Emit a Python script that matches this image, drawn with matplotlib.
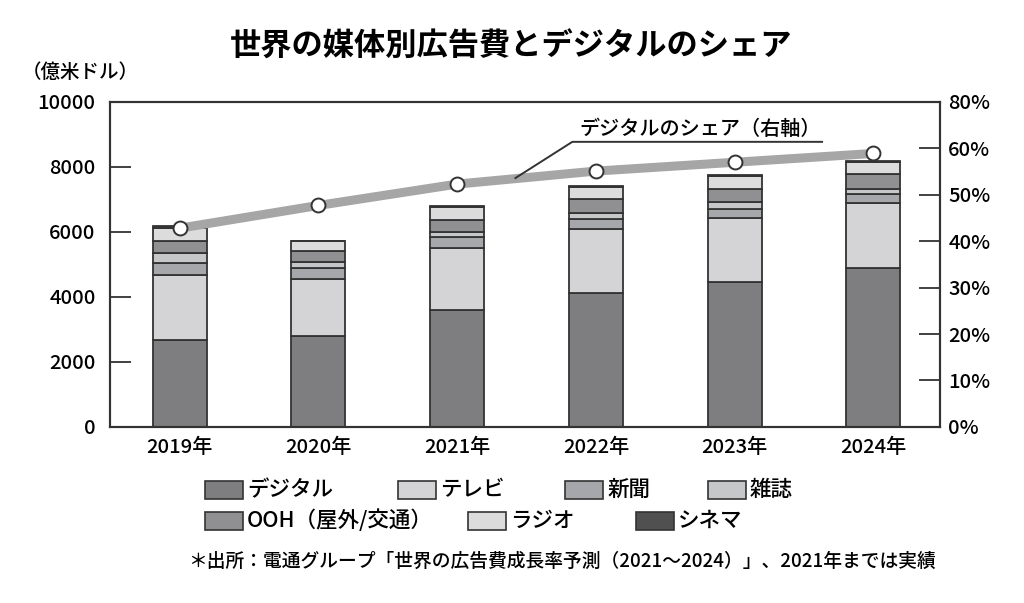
import matplotlib
matplotlib.use("Agg")
import matplotlib.pyplot as plt
from matplotlib.patches import Rectangle
import numpy as np

plt.rcParams['font.family'] = ['Noto Sans CJK JP', 'DejaVu Sans']
plt.rcParams['font.weight'] = 'medium'

years = ['2019年', '2020年', '2021年', '2022年', '2023年', '2024年']
digital = [2680, 2800, 3600, 4120, 4460, 4890]
tv = [2000, 1750, 1910, 1970, 1970, 2000]
newspaper = [370, 340, 340, 310, 280, 280]
magazine = [310, 185, 150, 185, 215, 155]
ooh = [370, 340, 370, 430, 400, 460]
radio = [400, 310, 400, 370, 400, 370]
cinema = [40, 10, 20, 30, 35, 40]
digital_share = [42.8, 47.7, 52.3, 55.1, 57.0, 58.9]

series_names = ['デジタル', 'テレビ', '新聞', '雑誌', 'OOH（屋外/交通）', 'ラジオ', 'シネマ']
series_values = [digital, tv, newspaper, magazine, ooh, radio, cinema]
series_colors = ['#7e7e80', '#d4d4d6', '#a6a7aa', '#c6c7c9', '#909092', '#dcdcdd', '#505050']

left_ticks = [0, 2000, 4000, 6000, 8000, 10000]
right_ticks = [0, 10, 20, 30, 40, 50, 60, 70]
right_tick_labels = ['0%', '10%', '20%', '30%', '40%', '50%', '60%', '80%']

edge = '#333333'
fig = plt.figure(figsize=(10.24, 6.03), dpi=100)
ax = fig.add_axes([0.107, 0.292, 0.811, 0.539])
x = np.arange(len(years))
bottom = np.zeros(len(years))
for name, vals, col in zip(series_names, series_values, series_colors):
    ax.bar(x, vals, width=0.39, bottom=bottom, color=col, edgecolor=edge, linewidth=1.3, zorder=2)
    bottom += np.array(vals)

ax.set_xlim(-0.505, 5.48)
ax.set_ylim(0, 10000)
ax.set_yticks(left_ticks)
ax.set_yticklabels([str(t) for t in left_ticks], fontsize=14.5)
ax.set_xticks(x)
ax.set_xticklabels(years, fontsize=14.5)
ax.tick_params(axis='x', length=0, pad=8)
ax.tick_params(axis='y', direction='in', length=15, width=1.3, color=edge, pad=10)
for s in ax.spines.values():
    s.set_color(edge)
    s.set_linewidth(1.5)

ax2 = ax.twinx()
ax2.set_ylim(0, 70)
ax2.set_yticks(right_ticks)
ax2.set_yticklabels(right_tick_labels, fontsize=14.5)
ax2.tick_params(axis='y', direction='in', length=15, width=1.3, color=edge, pad=6)
for s in ax2.spines.values():
    s.set_color(edge)
    s.set_linewidth(1.5)
ax2.plot(x, digital_share, color='#a6a6a6', linewidth=6.5, solid_capstyle='butt', zorder=3)
ax2.plot(x, digital_share, linestyle='none', marker='o', markersize=10,
         markerfacecolor='white', markeredgecolor=edge, markeredgewidth=1.4, zorder=4)

# annotation for the line
ax2.plot([2.42, 2.83, 4.63], [53.6, 61.4, 61.4], color=edge, linewidth=1.4, zorder=5)
ax2.text(2.88, 62.0, 'デジタルのシェア（右軸）', fontsize=14.5, ha='left', va='bottom', zorder=5)

fig.text(511 / 1024, 1 - 47 / 603, '世界の媒体別広告費とデジタルのシェア', ha='center', va='center',
         fontsize=22.5, fontweight='bold')
fig.text(80 / 1024, 1 - 72 / 603, '（億米ドル）', ha='center', va='center', fontsize=14)

# legend (manual layout)
W, H = 1024, 603
legend_pos = [(205, 490), (398, 490), (565, 490), (708, 490), (205, 521), (468, 521), (636, 521)]
pw, ph = 38, 18
for (px, py), name, col in zip(legend_pos, series_names, series_colors):
    fig.add_artist(Rectangle((px / W, 1 - (py + ph / 2) / H), pw / W, ph / H,
                             transform=fig.transFigure, facecolor=col, edgecolor=edge, linewidth=1.2))
    fig.text((px + pw + 4) / W, 1 - py / H, name, ha='left', va='center', fontsize=15.5)

fig.text(188 / W, 1 - 561 / H, '＊出所：電通グループ「世界の広告費成長率予測（2021～2024）」、2021年までは実績',
         ha='left', va='center', fontsize=13.5)

fig.savefig('out.png', dpi=100)
